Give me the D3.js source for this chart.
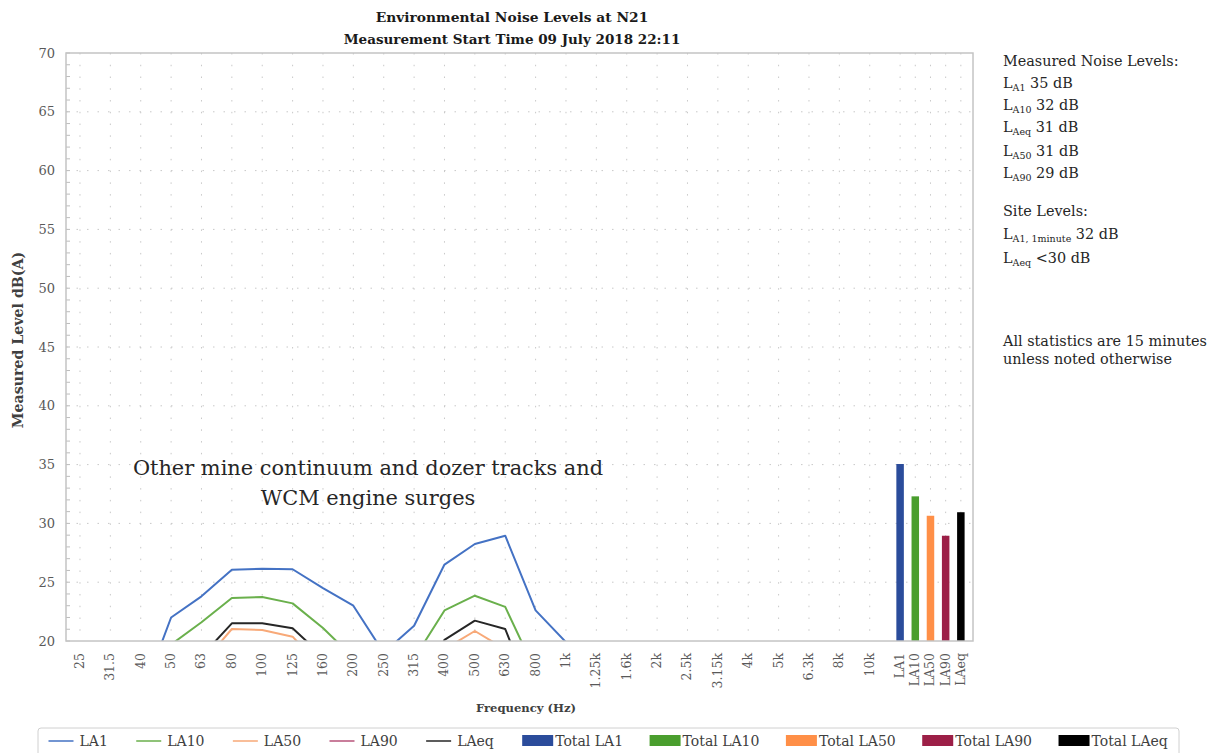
<!DOCTYPE html>
<html><head><meta charset="utf-8">
<script src="https://cdn.jsdelivr.net/npm/d3@7/dist/d3.min.js"></script>
<style>
html,body{margin:0;padding:0;background:#fff;}
svg{display:block;font-family:"DejaVu Serif",serif;}
</style></head>
<body>
<svg id="c" width="1216" height="753"></svg>
<script>
// ---------- data ----------
const freqLabels = ["25","31.5","40","50","63","80","100","125","160","200","250","315","400","500","630","800","1k","1.25k","1.6k","2k","2.5k","3.15k","4k","5k","6.3k","8k","10k"];
const totalLabels = ["LA1","LA10","LA50","LA90","LAeq"];
const LA1  = [12.5,13.0,15.1,22.0,23.8,26.05,26.15,26.1,24.5,23.0,19.0,21.3,26.5,28.25,28.95,22.6,19.9,16.5,15.2,14.0,13.0,12.0,11.0,10.5,10.0,9.5,9.0];
const LA10 = [11.0,11.5,13.0,19.7,21.6,23.65,23.75,23.2,21.1,18.6,16.5,18.5,22.6,23.85,22.9,17.4,16.0,14.0,13.0,12.0,11.0,10.0,9.5,9.0,8.5,8.0,7.5];
const LA50 = [9.0,9.5,11.0,15.0,18.0,21.02,20.94,20.37,17.6,15.5,14.0,15.0,19.3,20.85,19.3,14.0,13.0,11.5,10.5,10.0,9.0,8.5,8.0,7.5,7.0,6.5,6.0];
const LA90 = [8.0,8.5,10.0,14.0,16.5,18.5,18.6,18.0,16.0,14.0,12.5,13.5,17.5,18.8,17.5,12.5,11.5,10.0,9.5,9.0,8.0,7.5,7.0,6.5,6.0,5.5,5.0];
const LAeq = [9.5,10.0,12.0,16.0,18.7,21.5,21.5,21.08,18.7,16.5,14.5,15.5,20.1,21.73,21.02,14.5,13.5,12.0,11.0,10.5,9.5,9.0,8.5,8.0,7.5,7.0,6.5];
const totalValues = [35.05,32.3,30.65,28.95,30.95];
const yTicks = [20,25,30,35,40,45,50,55,60,65,70];

const lineSeries = [
  {name:"LA1", values:LA1, color:"#4472C4"},
  {name:"LA10", values:LA10, color:"#6AB04C"},
  {name:"LA50", values:LA50, color:"#F8A978"},
  {name:"LA90", values:LA90, color:"#B8537A"},
  {name:"LAeq", values:LAeq, color:"#262626"}
];
const barColors = ["#2B4C9B","#4A9E2E","#FF8F47","#9C1F47","#000000"];

// ---------- layout ----------
const svg = d3.select("#c");
const L = 66, R = 973, T = 53, B = 641;

// slot index: frequency bands one per slot, totals at half-slot spacing after 10k
const slotOf = d3.scaleOrdinal()
  .domain(freqLabels.concat(totalLabels))
  .range(freqLabels.map((d,i)=>i).concat(totalLabels.map((d,j)=>freqLabels.length + j*0.5)));
const xs = d3.scaleLinear().domain([-0.46, 29.4]).range([L, R]);
const x = c => xs(slotOf(c));
const y = d3.scaleLinear().domain([20,70]).range([B, T]);

// grid
const grid = svg.append("g");
grid.selectAll("line.h").data(yTicks.filter(v=>v>20 && v<70)).join("line")
  .attr("x1", L).attr("x2", R).attr("y1", d=>y(d)).attr("y2", d=>y(d))
  .attr("stroke","#c8c8c8").attr("stroke-width",1).attr("stroke-dasharray","1.5,9");
grid.selectAll("line.v").data(freqLabels.concat(totalLabels)).join("line")
  .attr("x1", d=>x(d)).attr("x2", d=>x(d)).attr("y1", T).attr("y2", B)
  .attr("stroke","#c8c8c8").attr("stroke-width",1).attr("stroke-dasharray","1.5,10.26");

// minor ticks on y axis
grid.selectAll("line.m").data(d3.range(20,71,1)).join("line")
  .attr("x1", L).attr("x2", L+4).attr("y1", d=>y(d)).attr("y2", d=>y(d))
  .attr("stroke","#bdbdbd").attr("stroke-width",1);

// clip
svg.append("clipPath").attr("id","plotclip").append("rect")
  .attr("x",L).attr("y",T).attr("width",R-L).attr("height",B-T);

// lines
const lineGen = d3.line().x((d,i)=>x(freqLabels[i])).y(d=>y(d));
svg.append("g").attr("clip-path","url(#plotclip)")
  .selectAll("path").data(lineSeries).join("path")
  .attr("d", d=>lineGen(d.values)).attr("fill","none")
  .attr("stroke", d=>d.color).attr("stroke-width",2).attr("stroke-linejoin","round");

// bars
const bw = 7.5;
svg.append("g").selectAll("rect").data(totalValues).join("rect")
  .attr("x",(d,i)=>x(totalLabels[i]) - bw/2).attr("width",bw)
  .attr("y", d=>y(d)).attr("height", d=>y(20)-y(d))
  .attr("fill",(d,i)=>barColors[i]);

// frame
svg.append("rect").attr("x",L).attr("y",T).attr("width",R-L).attr("height",B-T)
  .attr("fill","none").attr("stroke","#c4c4c4").attr("stroke-width",1.5);

// y axis labels
const yAxis = d3.axisLeft(y).tickValues(yTicks).tickSize(0).tickPadding(11).tickFormat(d3.format("d"));
const ya = svg.append("g").attr("transform",`translate(${L},0)`).call(yAxis);
ya.select(".domain").remove();
ya.selectAll("text").attr("font-family","DejaVu Serif").attr("font-size",13).attr("fill","#595959");

// x axis labels
const xAxisG = svg.append("g");
xAxisG.selectAll("text").data(freqLabels.concat(totalLabels)).join("text")
  .attr("transform", d=>`translate(${x(d)+4},${B+12}) rotate(-90)`)
  .attr("text-anchor","end").attr("font-size",12.5).attr("fill","#595959")
  .text(d=>d);

// titles
svg.append("text").attr("x",512).attr("y",22).attr("text-anchor","middle")
  .attr("font-weight","bold").attr("font-size",13.8).attr("fill","#1a1a1a")
  .text("Environmental Noise Levels at N21");
svg.append("text").attr("x",512).attr("y",44).attr("text-anchor","middle")
  .attr("font-weight","bold").attr("font-size",13.5).attr("fill","#1a1a1a")
  .text("Measurement Start Time 09 July 2018 22:11");
svg.append("text").attr("transform","translate(23,340) rotate(-90)").attr("text-anchor","middle")
  .attr("font-weight","bold").attr("font-size",14.2).attr("fill","#404040")
  .text("Measured Level dB(A)");
svg.append("text").attr("x",526).attr("y",712).attr("text-anchor","middle")
  .attr("font-weight","bold").attr("font-size",11.6).attr("fill","#404040")
  .text("Frequency (Hz)");

// annotation
const ann = svg.append("text").attr("text-anchor","middle").attr("font-size",20.9).attr("fill","#262626");
ann.append("tspan").attr("x",368).attr("y",475).text("Other mine continuum and dozer tracks and");
ann.append("tspan").attr("x",368).attr("y",505).text("WCM engine surges");

// right side text
const side = svg.append("g").attr("font-size",14.4).attr("fill","#262626");
function plain(t, yy){ side.append("text").attr("x",1003).attr("y",yy).text(t); }
function sub(sb, rest, yy){
  const t = side.append("text").attr("x",1003).attr("y",yy);
  t.append("tspan").text("L");
  t.append("tspan").attr("font-size",9.5).attr("dy",3).text(sb);
  t.append("tspan").attr("dy",-3).text(" " + rest);
}
plain("Measured Noise Levels:", 66);
sub("A1","35 dB", 88);
sub("A10","32 dB", 110);
sub("Aeq","31 dB", 132);
sub("A50","31 dB", 156);
sub("A90","29 dB", 178);
plain("Site Levels:", 216);
sub("A1, 1minute","32 dB", 239);
sub("Aeq","<30 dB", 263);
plain("All statistics are 15 minutes", 346);
plain("unless noted otherwise", 364);

// legend
const leg = svg.append("g");
leg.append("rect").attr("x",38).attr("y",728).attr("width",1141).attr("height",34).attr("rx",3)
  .attr("fill","#fff").attr("stroke","#d0d0d0").attr("stroke-width",1);
const legItems = lineSeries.map(s=>({label:s.name,color:s.color,kind:"line"}))
  .concat(totalLabels.map((t,i)=>({label:"Total "+t,color:barColors[i],kind:"rect"})));
let lx = 48.5;
legItems.forEach(it=>{
  const g = leg.append("g");
  if(it.kind==="line"){
    g.append("line").attr("x1",lx).attr("x2",lx+25).attr("y1",741).attr("y2",741)
      .attr("stroke",it.color).attr("stroke-width",2).attr("opacity",0.75);
    const t = g.append("text").attr("x",lx+31).attr("y",746).attr("font-size",14).attr("fill","#404040").text(it.label);
    lx += 31 + t.node().getComputedTextLength() + 28.4;
  } else {
    g.append("rect").attr("x",lx).attr("y",735).attr("width",31).attr("height",11).attr("fill",it.color);
    const t = g.append("text").attr("x",lx+33).attr("y",746).attr("font-size",14).attr("fill","#404040").text(it.label);
    lx += 33 + t.node().getComputedTextLength() + 26.5;
  }
});
</script>
</body></html>
